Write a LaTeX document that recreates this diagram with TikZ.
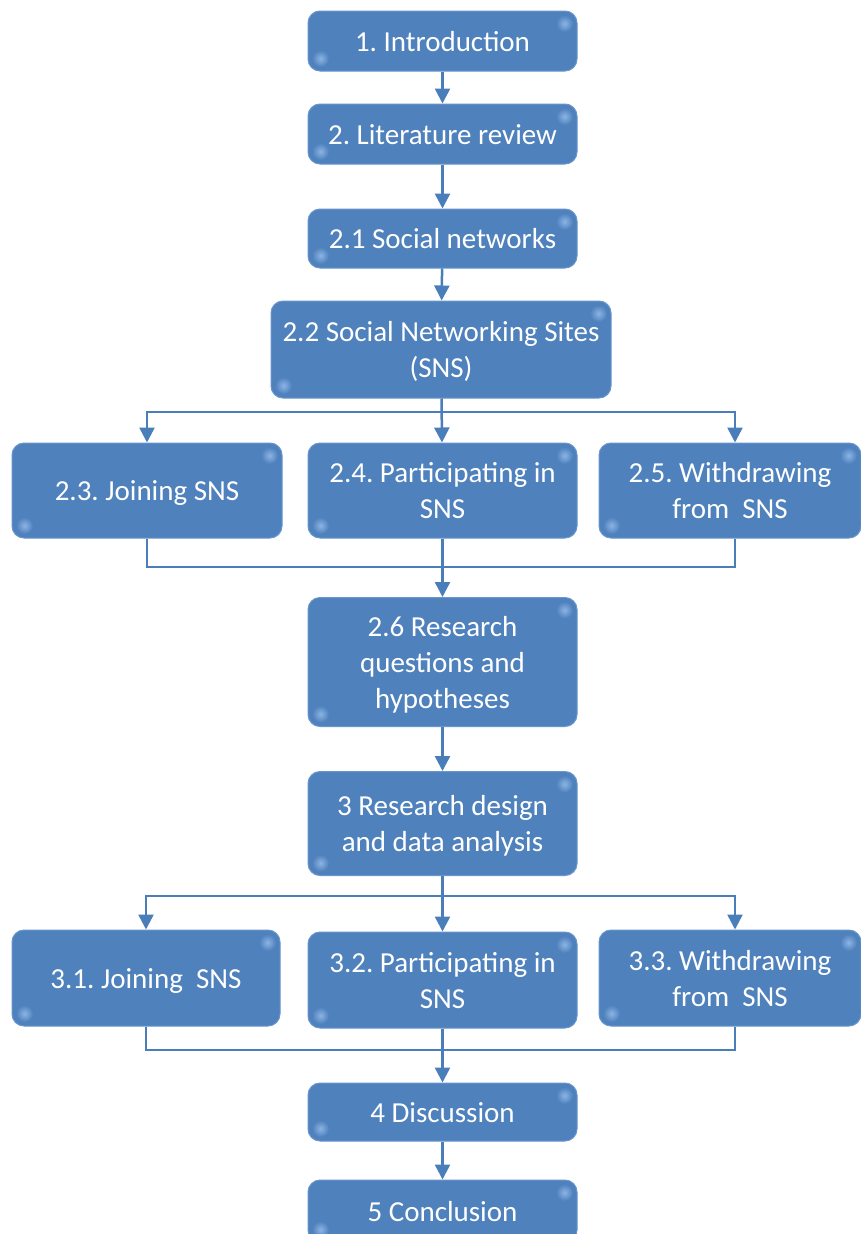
\documentclass[tikz,border=0pt]{standalone}
\usepackage{fontspec}
\setmainfont{Carlito}
\usetikzlibrary{arrows.meta,calc}
\definecolor{boxblue}{RGB}{79,129,189}
\definecolor{boxedge}{RGB}{104,150,205}
\definecolor{hilite}{RGB}{140,180,228}
\definecolor{linkblue}{RGB}{74,126,187}
% line strut: every line of a box is centred on the font's full line height
\newcommand{\linestrut}{\rule[-7.6pt]{0pt}{35.4pt}}
\newcommand{\lines}[1]{\linestrut#1\linestrut}
\tikzset{
  stage/.style={rectangle, rounded corners=12pt, fill=boxblue, draw=boxedge,
    line width=1pt, text=white, align=center, inner sep=0pt,
    font=\fontsize{29}{36}\selectfont\frenchspacing},
  gloss/.style={inner color=hilite, outer color=boxblue},
  link/.style={draw=linkblue, line width=2.5pt},
  flow/.style={link, -{Triangle[length=15pt,width=15pt]}}
}
\begin{document}
\begin{tikzpicture}[x=1pt,y=-1pt]
\clip (0,0) rectangle (861,1234);
\fill[white] (0,0) rectangle (861,1234);

% main column
\node[stage, minimum width=269pt, minimum height=60pt] (intro) at (442.5,41) {\lines{1. Introduction}};
\node[stage, minimum width=269pt, minimum height=60pt] (lit) at (442.5,134) {\lines{2. Literature review}};
\node[stage, minimum width=269pt, minimum height=59pt] (soc) at (442.5,238.5) {\lines{2.1 Social networks}};
\node[stage, minimum width=340pt, minimum height=97pt] (sns) at (441,349.5) {\lines{2.2 Social Networking Sites\\(SNS)}};

% first branch
\node[stage, minimum width=270pt, minimum height=95pt] (join) at (147,490.5) {\lines{2.3. Joining SNS}};
\node[stage, minimum width=269pt, minimum height=95pt] (part) at (442.5,490.5) {\lines{2.4. Participating in\\SNS}};
\node[stage, minimum width=262pt, minimum height=95pt] (withd) at (730,490.5) {\lines{2.5. Withdrawing\\from~~SNS}};

\node[stage, minimum width=269pt, minimum height=129pt] (rq) at (442.5,662) {\lines{2.6 Research\\questions and\\hypotheses}};
\node[stage, minimum width=269pt, minimum height=104pt] (design) at (442.5,823.5) {\lines{3 Research design\\and data analysis}};

% second branch
\node[stage, minimum width=268pt, minimum height=96pt] (join3) at (146,978) {\lines{3.1. Joining~~SNS}};
\node[stage, minimum width=269pt, minimum height=96pt] (part3) at (442.5,980) {\lines{3.2. Participating in\\SNS}};
\node[stage, minimum width=262pt, minimum height=96pt] (withd3) at (730,978) {\lines{3.3. Withdrawing\\from~~SNS}};

\node[stage, minimum width=269pt, minimum height=58pt] (disc) at (442.5,1112) {\lines{4 Discussion}};
\node[stage, minimum width=269pt, minimum height=62pt] (concl) at (442.5,1211) {\lines{5 Conclusion}};

% soft glossy spots in two corners of each box
\foreach \b in {intro,lit,soc,sns,join,part,withd,rq,design,join3,part3,withd3,disc,concl}{
  \shade[gloss] ($(\b.north east)+(-13,13)$) circle (8.5pt);
  \shade[gloss] ($(\b.south west)+(13,-13)$) circle (8.5pt);
}

% branch and merge points
\coordinate (split1) at (442.5,412);
\coordinate (merge1) at (442.5,567);
\coordinate (split2) at (442.5,896);
\coordinate (merge2) at (442.5,1050);
\coordinate (right1) at ($(withd.north)+(5,0)$);
\coordinate (right1b) at ($(withd.south)+(5,0)$);
\coordinate (right2) at ($(withd3.north)+(5,0)$);
\coordinate (right2b) at ($(withd3.south)+(5,0)$);

% straight links
\draw[flow] (intro) -- (lit);
\draw[flow] (lit) -- (soc);
\draw[flow] (soc) -- (sns);
\draw[flow] (sns) -- (part);
\draw[flow] (part) -- (rq);
\draw[flow] (rq) -- (design);
\draw[flow] (design) -- (part3);
\draw[flow] (part3) -- (disc);
\draw[flow] (disc) -- (concl);

% fan-out and fan-in
\draw[flow] (split1) -| (join.north);
\draw[flow] (split1) -| (right1);
\draw[link] (join.south) |- (merge1);
\draw[link] (right1b) |- (merge1);

\draw[flow] (split2) -| (join3.north);
\draw[flow] (split2) -| (right2);
\draw[link] (join3.south) |- (merge2);
\draw[link] (right2b) |- (merge2);
\end{tikzpicture}
\end{document}
